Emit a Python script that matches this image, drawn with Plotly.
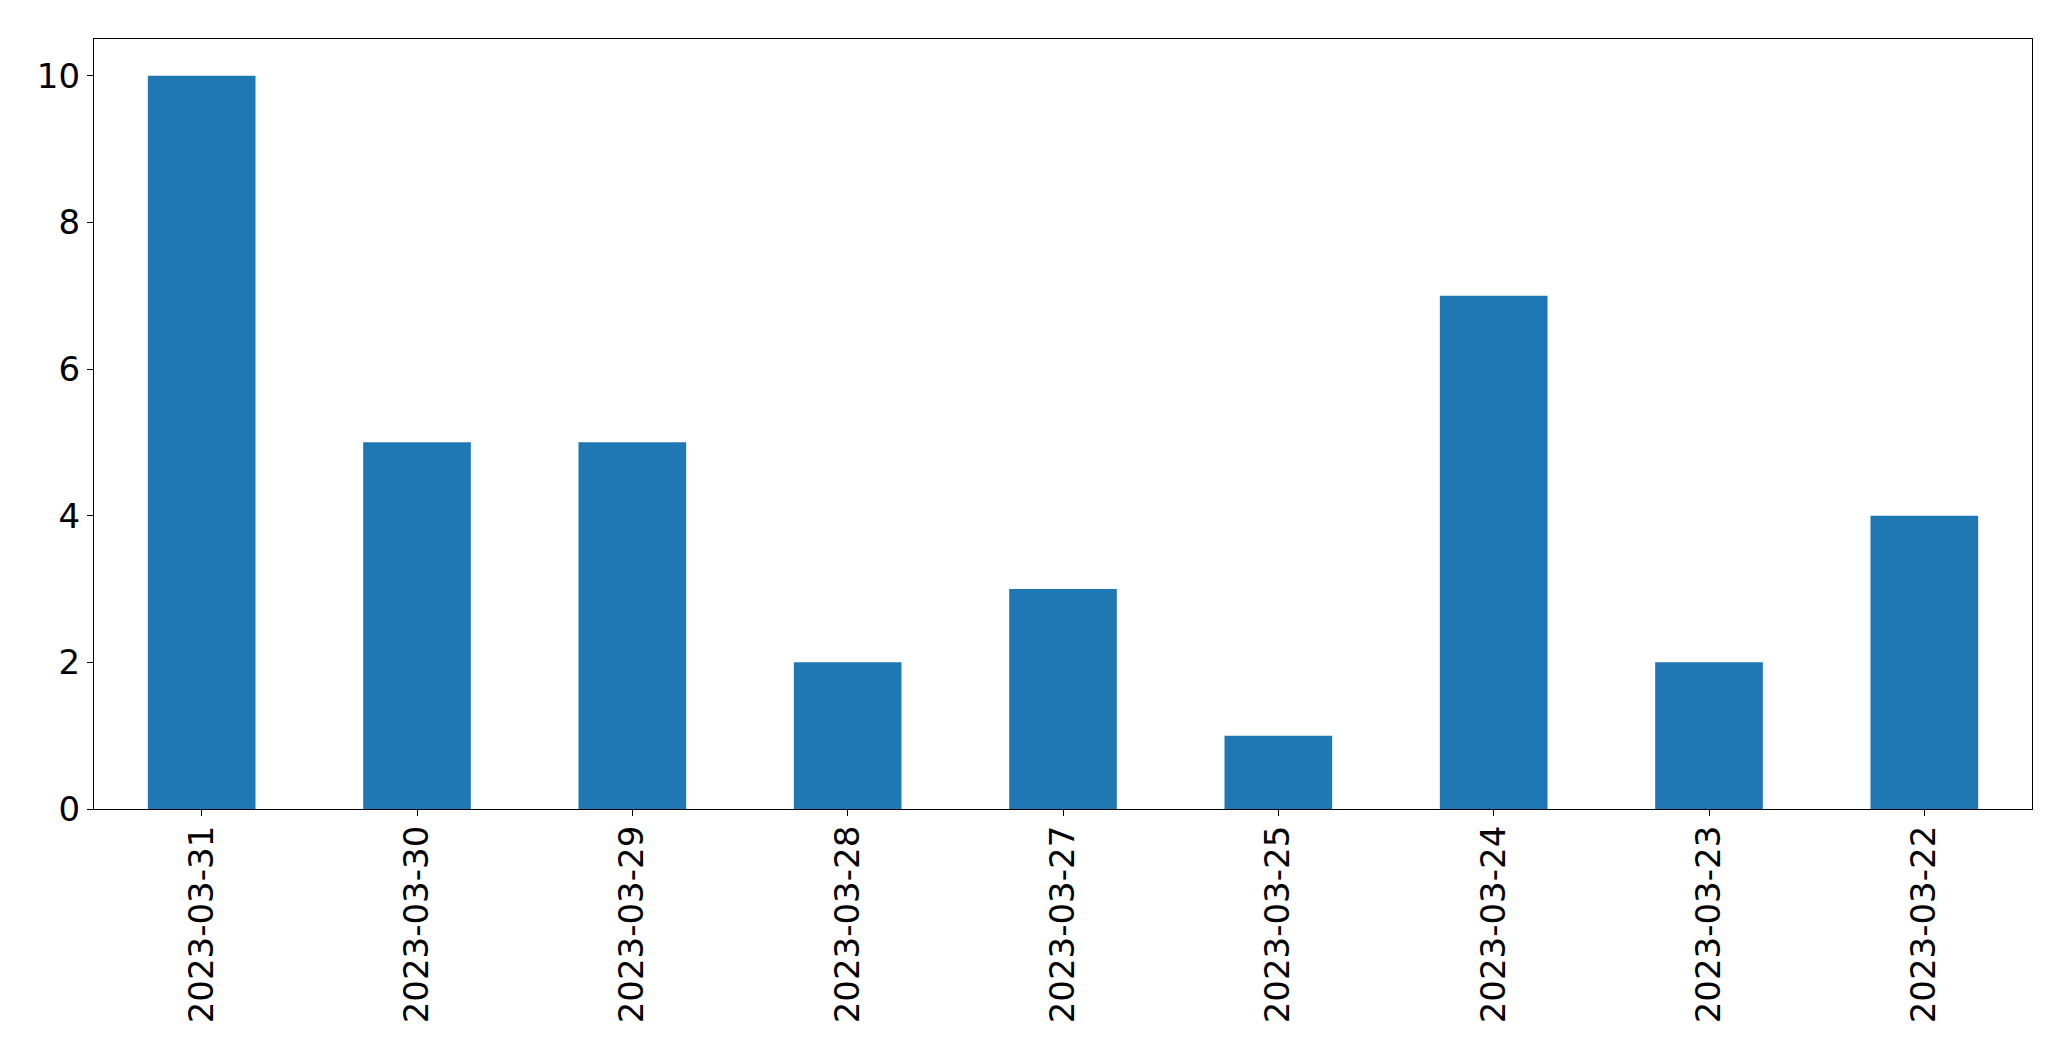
import plotly.graph_objects as go

dates = ["2023-03-31", "2023-03-30", "2023-03-29", "2023-03-28", "2023-03-27",
         "2023-03-25", "2023-03-24", "2023-03-23", "2023-03-22"]
counts = [10, 5, 5, 2, 3, 1, 7, 2, 4]
y_ticks = [0, 2, 4, 6, 8, 10]

fig = go.Figure(go.Bar(x=dates, y=counts, width=0.5, marker=dict(color="#1f77b4", line=dict(width=0))))

axis_common = dict(showline=True, linecolor="black", linewidth=1.3, mirror=True,
                   ticks="outside", ticklen=6, tickwidth=1.3, tickcolor="black",
                   showgrid=False, zeroline=False,
                   tickfont=dict(family="DejaVu Sans", size=34, color="black"))

fig.update_layout(
    width=2071, height=1061,
    margin=dict(l=86, r=47, t=31, b=260),
    paper_bgcolor="white", plot_bgcolor="white",
    showlegend=False,
    xaxis=dict(type="category", range=[-0.5, 8.5], tickangle=-90, ticklabelstandoff=-4, **axis_common),
    yaxis=dict(range=[0, 10.5], tickvals=y_ticks, **axis_common),
)

fig.write_html("out.html")
